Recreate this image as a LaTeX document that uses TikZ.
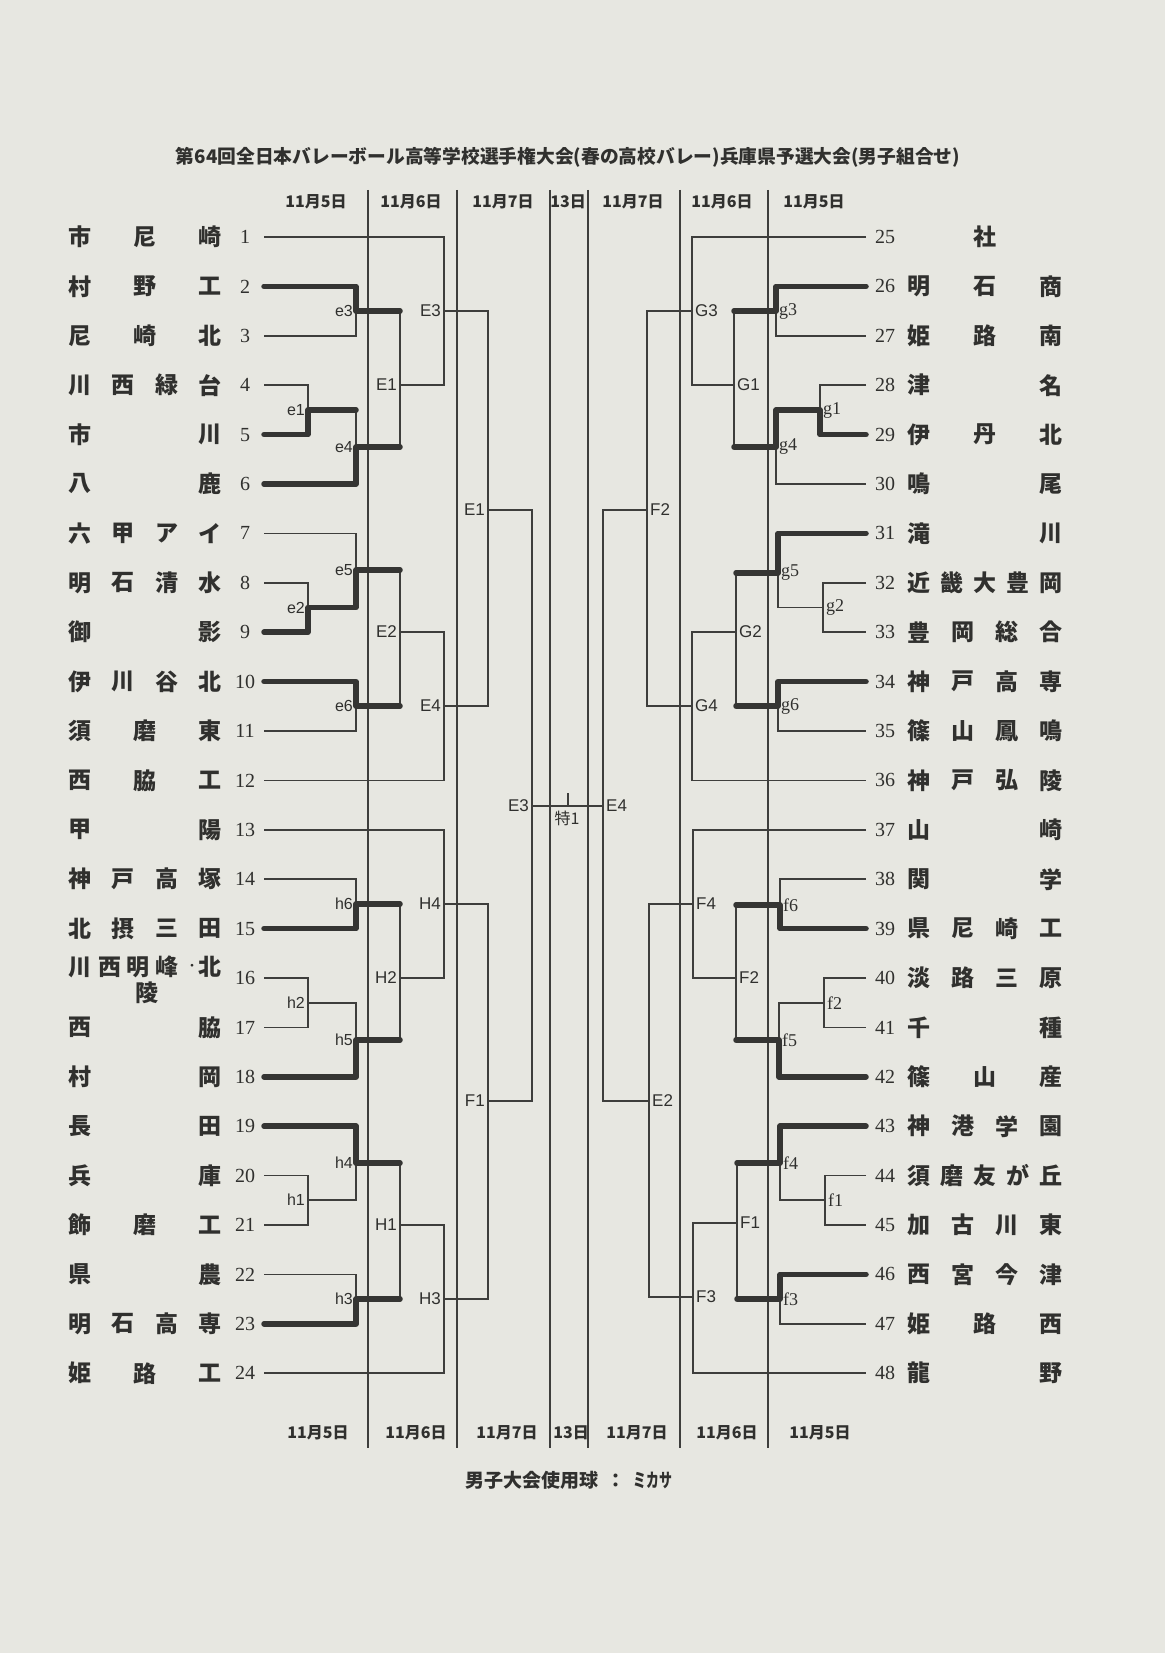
\documentclass[tikz,border=0pt]{standalone}
\usepackage{fontspec}
\usepackage{graphicx}
\newfontfamily\cjk{Noto Sans CJK JP}
\newfontfamily\numf{Liberation Serif}
\newfontfamily\labf{Liberation Sans}
\definecolor{paper}{RGB}{231,231,225}
\definecolor{ink}{RGB}{62,62,60}
\definecolor{txt}{RGB}{48,48,46}
\tikzset{
 ln/.style={draw=ink, line width=1.6pt},
 win/.style={draw=ink!85!black, line width=5.5pt, line cap=round, line join=round},
 dayline/.style={draw=ink, line width=1.3pt},
 num/.style={font=\numf\fontsize{20}{20}\selectfont, text=txt, inner sep=0pt},
 nm/.style={font=\cjk\bfseries\fontsize{23}{23}\selectfont, text=txt, inner sep=0pt},
 lbl/.style={font=\labf\fontsize{16}{16}\selectfont, text=txt, inner sep=1pt},
 lbu/.style={font=\labf\fontsize{17}{17}\selectfont, text=txt, inner sep=1pt},
 lbr/.style={font=\numf\fontsize{18}{18}\selectfont, text=txt, inner sep=1pt},
 datel/.style={font=\cjk\bfseries\fontsize{16}{16}\selectfont, text=txt, inner sep=0pt},
 lw/.style={anchor=east, xshift=-2pt},
 rw/.style={anchor=west, xshift=2pt},
}
\newcommand\Lteam[3]{%
 \node[num] (n#1) at (245,{237+(#1-1)*49.4}) {#1};
 \coordinate (p#1) at (264,{237+(#1-1)*49.4});
 \foreach \c [count=\i] in {#3} {\node[nm] (t#1-\i) at ({80+(\i-1)*130/(#2-1)},{237+(#1-1)*49.4}) {\c};}
}
\newcommand\Rteam[3]{%
 \node[num] (n#1) at (885,{237+(#1-25)*49.4}) {#1};
 \coordinate (p#1) at (866,{237+(#1-25)*49.4});
 \foreach \c [count=\i] in {#3} {\node[nm] (t#1-\i) at ({919+(\i-1)*132/(#2-1)},{237+(#1-25)*49.4}) {\c};}
}
\newcommand\match[7]{%
 \coordinate (m#1) at (#2,#3);
 \draw[ln] (#4) -| (m#1) |- (#5);
 \node[#7] (l#1) at (m#1) {#6};
}
\begin{document}
\begin{tikzpicture}[x=1pt,y=-1pt]
\path[use as bounding box, fill=paper] (0,0) rectangle (1165,1653);

% title
\node[text=txt, inner sep=0pt] (title) at (568,157) {\resizebox{784pt}{!}{\cjk\bfseries\fontsize{18}{18}\selectfont 第64回全日本バレーボール高等学校選手権大会(春の高校バレー)兵庫県予選大会(男子組合せ)}};

% day lines
\foreach \x [count=\k] in {368,457,550,588,680,768} {
 \coordinate (dt\k) at (\x,190);
 \coordinate (db\k) at (\x,1448);
 \draw[dayline] (dt\k) -- (db\k);
}
% dates
\foreach \x/\t [count=\k] in {316/11月5日,411/11月6日,503/11月7日,568/13日,633/11月7日,722/11月6日,814/11月5日} {
 \node[datel] (dh\k) at (\x,202) {\t};
}
\foreach \x/\t [count=\k] in {318/11月5日,416/11月6日,507/11月7日,571/13日,637/11月7日,727/11月6日,820/11月5日} {
 \node[datel] (df\k) at (\x,1433) {\t};
}

% left teams
\Lteam{1}{3}{市,尼,崎}
\Lteam{2}{3}{村,野,工}
\Lteam{3}{3}{尼,崎,北}
\Lteam{4}{4}{川,西,緑,台}
\Lteam{5}{2}{市,川}
\Lteam{6}{2}{八,鹿}
\Lteam{7}{4}{六,甲,ア,イ}
\Lteam{8}{4}{明,石,清,水}
\Lteam{9}{2}{御,影}
\Lteam{10}{4}{伊,川,谷,北}
\Lteam{11}{3}{須,磨,東}
\Lteam{12}{3}{西,脇,工}
\Lteam{13}{2}{甲,陽}
\Lteam{14}{4}{神,戸,高,塚}
\Lteam{15}{4}{北,摂,三,田}
\node[num] (n16) at (245,978) {16};
\coordinate (p16) at (264,978);
\foreach \x/\c [count=\i] in {80/川,110/西,138/明,167/峰,210/北} {\node[nm] (t16-\i) at (\x,967) {\c};}
\node[font=\cjk\bfseries\fontsize{10}{10}\selectfont, text=txt, inner sep=0pt] (t16-dot) at (192,967) {・};
\node[nm] (t16-7) at (147,993) {陵};
\Lteam{17}{2}{西,脇}
\Lteam{18}{2}{村,岡}
\Lteam{19}{2}{長,田}
\Lteam{20}{2}{兵,庫}
\Lteam{21}{3}{飾,磨,工}
\Lteam{22}{2}{県,農}
\Lteam{23}{4}{明,石,高,専}
\Lteam{24}{3}{姫,路,工}

% right teams
\node[num] (n25) at (885,237) {25};
\coordinate (p25) at (866,237);
\node[nm] (t25-1) at (985,237) {社};
\Rteam{26}{3}{明,石,商}
\Rteam{27}{3}{姫,路,南}
\Rteam{28}{2}{津,名}
\Rteam{29}{3}{伊,丹,北}
\Rteam{30}{2}{鳴,尾}
\Rteam{31}{2}{滝,川}
\Rteam{32}{5}{近,畿,大,豊,岡}
\Rteam{33}{4}{豊,岡,総,合}
\Rteam{34}{4}{神,戸,高,専}
\Rteam{35}{4}{篠,山,鳳,鳴}
\Rteam{36}{4}{神,戸,弘,陵}
\Rteam{37}{2}{山,崎}
\Rteam{38}{2}{関,学}
\Rteam{39}{4}{県,尼,崎,工}
\Rteam{40}{4}{淡,路,三,原}
\Rteam{41}{2}{千,種}
\Rteam{42}{3}{篠,山,産}
\Rteam{43}{4}{神,港,学,園}
\Rteam{44}{5}{須,磨,友,が,丘}
\Rteam{45}{4}{加,古,川,東}
\Rteam{46}{4}{西,宮,今,津}
\Rteam{47}{3}{姫,路,西}
\Rteam{48}{2}{龍,野}

% left bracket
\match{e3}{356}{311}{p2}{p3}{e3}{lbl,lw}
\match{e1}{308}{410}{p4}{p5}{e1}{lbl,lw}
\match{e4}{356}{447}{me1}{p6}{e4}{lbl,lw}
\match{E1}{400}{385}{me3}{me4}{E1}{lbu,lw}
\match{E3}{444}{311}{p1}{mE1}{E3}{lbu,lw}
\match{e2}{308}{607.5}{p8}{p9}{e2}{lbl,lw}
\match{e5}{356}{570}{p7}{me2}{e5}{lbl,lw}
\match{e6}{356}{706}{p10}{p11}{e6}{lbl,lw}
\match{E2}{400}{632}{me5}{me6}{E2}{lbu,lw}
\match{E4}{444}{706}{mE2}{p12}{E4}{lbu,lw}
\match{Ea}{488}{510}{mE3}{mE4}{E1}{lbu,lw}
\match{h6}{356}{904}{p14}{p15}{h6}{lbl,lw}
\match{h2}{308}{1003}{p16}{p17}{h2}{lbl,lw}
\match{h5}{356}{1040}{mh2}{p18}{h5}{lbl,lw}
\match{H2}{400}{978}{mh6}{mh5}{H2}{lbu,lw}
\match{H4}{444}{904}{p13}{mH2}{H4}{lbu,lw}
\match{h1}{308}{1200}{p20}{p21}{h1}{lbl,lw}
\match{h4}{356}{1163}{p19}{mh1}{h4}{lbl,lw}
\match{h3}{356}{1299}{p22}{p23}{h3}{lbl,lw}
\match{H1}{400}{1225}{mh4}{mh3}{H1}{lbu,lw}
\match{H3}{444}{1299}{mH1}{p24}{H3}{lbu,lw}
\match{F1}{488}{1101}{mH4}{mH3}{F1}{lbu,lw}
\match{S}{532}{806}{mEa}{mF1}{E3}{lbu,lw}

% right bracket
\match{g3}{776}{311}{p26}{p27}{g3}{lbr,rw}
\match{g1}{820}{410}{p28}{p29}{g1}{lbr,rw}
\match{g4}{776}{447}{mg1}{p30}{g4}{lbr,rw}
\match{G1}{734}{385}{mg3}{mg4}{G1}{lbu,rw}
\match{G3}{692}{311}{p25}{mG1}{G3}{lbu,rw}
\match{g2}{823}{607.5}{p32}{p33}{g2}{lbr,rw}
\match{g5}{778}{573}{p31}{mg2}{g5}{lbr,rw}
\match{g6}{778}{706}{p34}{p35}{g6}{lbr,rw}
\match{G2}{736}{632}{mg5}{mg6}{G2}{lbu,rw}
\match{G4}{692}{706}{mG2}{p36}{G4}{lbu,rw}
\match{Fa}{647}{510}{mG3}{mG4}{F2}{lbu,rw}
\match{f6}{780}{905}{p38}{p39}{f6}{lbr,rw}
\match{f2}{824}{1003}{p40}{p41}{f2}{lbr,rw}
\match{f5}{779}{1040}{mf2}{p42}{f5}{lbr,rw}
\match{Fb}{736}{978}{mf6}{mf5}{F2}{lbu,rw}
\match{F4}{693}{904}{p37}{mFb}{F4}{lbu,rw}
\match{f1}{825}{1200}{p44}{p45}{f1}{lbr,rw}
\match{f4}{780}{1163}{p43}{mf1}{f4}{lbr,rw}
\match{f3}{780}{1299}{p46}{p47}{f3}{lbr,rw}
\match{Fc}{737}{1223}{mf4}{mf3}{F1}{lbu,rw}
\match{F3}{693}{1297}{mFc}{p48}{F3}{lbu,rw}
\match{Eb}{649}{1101}{mF4}{mF3}{E2}{lbu,rw}
\match{Ec}{603}{806}{mFa}{mEb}{E4}{lbu,rw}

% final
\draw[ln] (mS) -- (mEc);
\coordinate (tk) at (568,806);
\draw[ln] (tk) -- ++(0,-13);
\node[font=\cjk\fontsize{16}{16}\selectfont, text=txt, inner sep=0pt] (sp) at (567,818) {特1};

% winners (left)
\draw[win] (p2) -| (me3) -- (me3 -| mE1);
\draw[win] (p5) -| (me1) -- (me1 -| me4);
\draw[win] (p6) -| (me4) -- (me4 -| mE1);
\draw[win] (p9) -| (me2) -- (me2 -| me5) -- (me5) -- (me5 -| mE2);
\draw[win] (p10) -| (me6) -- (me6 -| mE2);
\draw[win] (p15) -| (mh6) -- (mh6 -| mH2);
\draw[win] (p18) -| (mh5) -- (mh5 -| mH2);
\draw[win] (p19) -| (mh4) -- (mh4 -| mH1);
\draw[win] (p23) -| (mh3) -- (mh3 -| mH1);
% winners (right)
\draw[win] (p26) -| (mg3) -- (mg3 -| mG1);
\draw[win] (p29) -| (mg1) -- (mg1 -| mg4) -- (mg4) -- (mg4 -| mG1);
\draw[win] (p31) -| (mg5) -- (mg5 -| mG2);
\draw[win] (p34) -| (mg6) -- (mg6 -| mG2);
\draw[win] (p39) -| (mf6) -- (mf6 -| mFb);
\draw[win] (p42) -| (mf5) -- (mf5 -| mFb);
\draw[win] (p43) -| (mf4) -- (mf4 -| mFc);
\draw[win] (p46) -| (mf3) -- (mf3 -| mFc);

% footer
\node[text=txt, inner sep=0pt] (foot) at (569,1480) {\cjk\bfseries\fontsize{19}{19}\selectfont 男子大会使用球\hspace{8pt}：\hspace{8pt}\scalebox{0.68}[1]{ミカサ}};
\end{tikzpicture}
\end{document}
